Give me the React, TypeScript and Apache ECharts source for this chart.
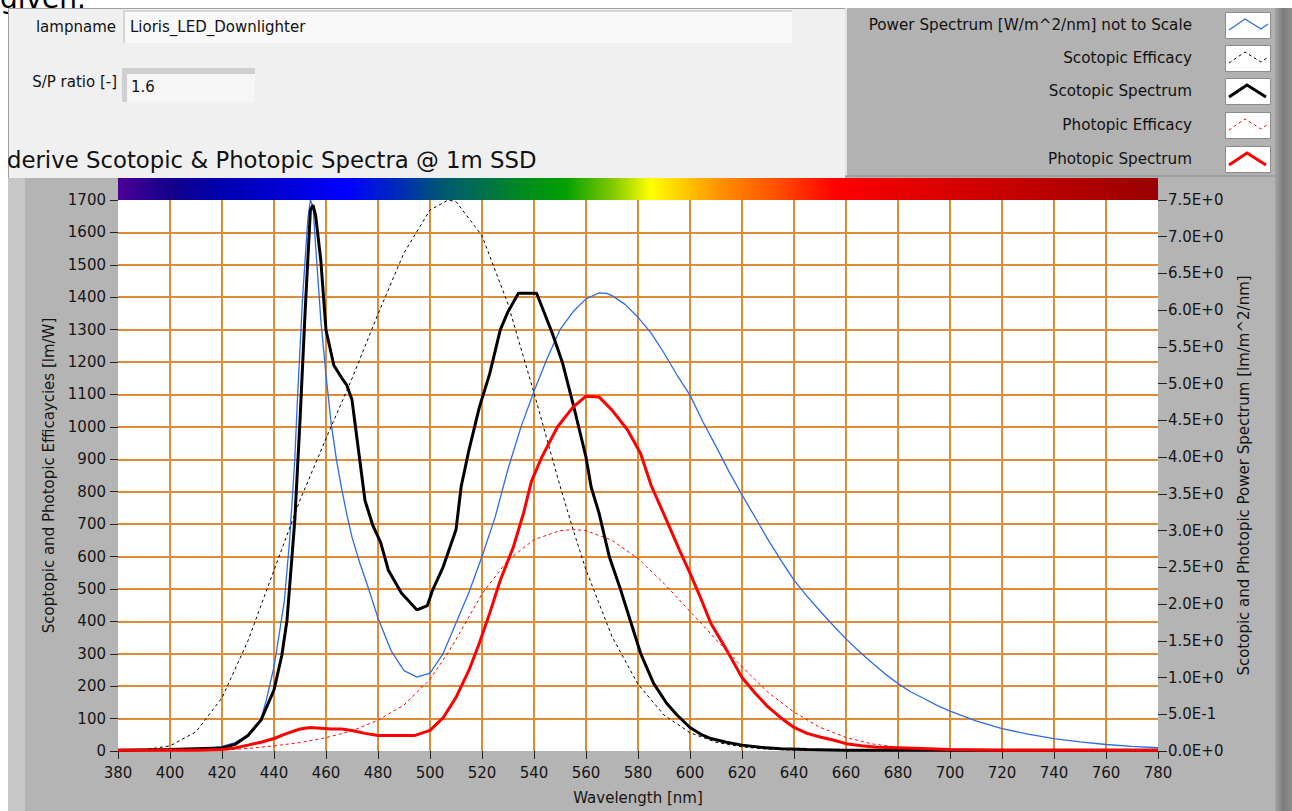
import React, { useEffect, useRef } from "react";
import * as echarts from "echarts";

const FONT = "DejaVu Sans";

const lampName = "Lioris_LED_Downlighter";
const spRatio = "1.6";
const titleText = "derive Scotopic & Photopic Spectra @ 1m SSD";
const xAxisName = "Wavelength [nm]";
const leftAxisName = "Scoptopic and Photopic Efficaycies [lm/W]";
const rightAxisName = "Scotopic and Photopic Power Spectrum [lm/m^2/nm]";

const legendNames = [
  "Power Spectrum [W/m^2/nm] not to Scale",
  "Scotopic Efficacy",
  "Scotopic Spectrum",
  "Photopic Efficacy",
  "Photopic Spectrum",
];
const seriesColors = ["#2f6be8", "#000000", "#000000", "#ff0000", "#ff0000"];
const seriesWidths = [1.3, 1, 3, 1, 3];
const seriesDashed = [false, true, false, true, false];

// Efficacy curves (lm/W), left axis
const efficacyWl = [380, 390, 400, 410, 420, 430, 440, 450, 460, 470, 480, 490, 500, 507, 510, 520, 530, 540, 550, 555, 560, 570, 580, 590, 600, 610, 620, 630, 640, 650, 660, 670, 680, 690, 700, 710, 720, 730, 740, 750, 760, 770, 780];
const scotopicEfficacy = [1.0, 3.8, 15.8, 59.2, 164, 340, 558, 774, 964, 1149, 1348, 1537, 1669, 1700, 1695, 1590, 1379, 1105, 818, 684, 559, 353, 206, 111, 56.4, 27.1, 12.5, 5.7, 2.5, 1.2, 0.5, 0.25, 0.12, 0.06, 0.03, 0.01, 0, 0, 0, 0, 0, 0, 0];
const photopicEfficacy = [0.03, 0.08, 0.27, 0.83, 2.7, 7.9, 15.7, 26.0, 41.0, 62.1, 95.0, 142, 221, 304, 344, 485, 589, 652, 680, 683, 680, 650, 594, 517, 431, 344, 260, 181, 120, 73, 41.7, 21.9, 11.6, 5.6, 2.8, 1.4, 0.72, 0.36, 0.17, 0.08, 0.04, 0.02, 0.01];

// Power spectrum (not to scale), left axis
const powerWl = [380, 390, 400, 410, 415, 420, 425, 430, 435, 437, 440, 442, 444, 446, 448, 449, 451, 453, 454, 455, 456, 458, 460, 462, 464, 466, 468, 470, 473, 476, 480, 485, 490, 495, 500, 505, 510, 515, 520, 525, 530, 535, 540, 545, 550, 555, 560, 565, 568, 570, 575, 580, 585, 590, 595, 600, 605, 610, 615, 620, 625, 630, 635, 640, 645, 650, 655, 660, 665, 670, 675, 680, 685, 690, 695, 700, 710, 720, 730, 740, 750, 760, 770, 780];
const powerSpectrum = [4, 4, 5, 7, 9, 14, 26, 50, 100, 155, 260, 360, 465, 650, 900, 1083, 1400, 1640, 1700, 1680, 1560, 1330, 1160, 1010, 900, 810, 730, 660, 580, 510, 410, 310, 248, 228, 240, 300, 395, 490, 600, 720, 870, 1000, 1110, 1210, 1300, 1355, 1395, 1413, 1412, 1405, 1378, 1338, 1290, 1228, 1160, 1098, 1015, 940, 862, 790, 722, 652, 588, 527, 478, 432, 388, 346, 308, 272, 238, 208, 182, 162, 141, 123, 93, 69, 52, 38, 28, 20, 14, 10];

// Scotopic spectrum (lm/m^2/nm), right axis
const scotopicWl = [380, 400, 420, 425, 430, 435, 440, 443, 445, 448, 450, 452, 454, 455, 456, 458, 460, 463, 466, 468, 470, 472, 475, 478, 481, 484, 489, 495, 499, 501, 505, 510, 512, 515, 519, 523, 527, 530, 534, 541, 547, 551, 555, 560, 562, 565, 569, 573, 577, 581, 586, 591, 595, 600, 604, 608, 614, 620, 627, 635, 645, 660, 780];
const scotopicSpectrum = [0.01, 0.02, 0.04, 0.09, 0.21, 0.42, 0.83, 1.30, 1.78, 3.14, 4.50, 6.00, 7.36, 7.43, 7.29, 6.68, 5.73, 5.25, 5.08, 4.98, 4.78, 4.23, 3.41, 3.07, 2.84, 2.46, 2.15, 1.92, 1.98, 2.19, 2.50, 3.01, 3.60, 4.10, 4.68, 5.14, 5.73, 5.98, 6.23, 6.23, 5.69, 5.28, 4.73, 4.00, 3.59, 3.24, 2.64, 2.23, 1.78, 1.33, 0.92, 0.65, 0.49, 0.32, 0.23, 0.17, 0.12, 0.08, 0.05, 0.03, 0.02, 0.01, 0.01];

// Photopic spectrum (lm/m^2/nm), right axis
const photopicWl = [380, 410, 420, 425, 430, 435, 440, 445, 450, 454, 458, 462, 466, 470, 475, 480, 487, 494, 500, 505, 510, 515, 519, 523, 527, 532, 536, 539, 543, 549, 555, 560, 565, 570, 576, 581, 585, 591, 596, 600, 604, 608, 614, 620, 625, 630, 635, 640, 645, 650, 655, 660, 666, 672, 683, 700, 720, 780];
const photopicSpectrum = [0.01, 0.01, 0.02, 0.04, 0.08, 0.12, 0.17, 0.24, 0.30, 0.32, 0.31, 0.30, 0.30, 0.28, 0.24, 0.21, 0.21, 0.21, 0.28, 0.45, 0.73, 1.10, 1.47, 1.88, 2.32, 2.77, 3.24, 3.67, 4.00, 4.41, 4.68, 4.83, 4.82, 4.64, 4.37, 4.05, 3.62, 3.14, 2.73, 2.42, 2.09, 1.74, 1.38, 1.00, 0.79, 0.60, 0.45, 0.32, 0.24, 0.19, 0.15, 0.10, 0.07, 0.05, 0.04, 0.02, 0.01, 0.01];

// Spectrum colour bar
const barWl = [380, 400, 420, 440, 468, 490, 505, 520, 535, 552, 570, 585, 600, 612, 633, 656, 690, 730, 780];
const barColors = ["#4b0096", "#14008c", "#0000b0", "#0000d0", "#0000ff", "#0030b0", "#005a70", "#00704c", "#008a20", "#00a000", "#80c800", "#ffff00", "#ffc000", "#ff9000", "#ff5000", "#ff0000", "#e00000", "#c00000", "#990000"];

const X_MIN = 380;
const X_MAX = 780;

const pairs = (xs: number[], ys: number[]) => xs.map((x, i) => [x, ys[i]]);

const rightFmt = (v: number) =>
  v === 0 ? "0.0E+0" : v < 1 ? (v * 10).toFixed(1) + "E-1" : v.toFixed(1) + "E+0";
const plainFmt = (v: number) => String(v);

function buildOption() {
  const G_LEFT = 118;
  const G_RIGHT = 1158;
  const G_TOP = 200;
  const txt = (text: string, x: number, y: number, size: number, align = "left", extra: any = {}) => ({
    type: "text",
    z: 5,
    style: { text, x, y, fontSize: size, fontFamily: FONT, fill: "#111", align, verticalAlign: "middle", ...extra },
  });

  const legendTops = [12, 45, 78, 112, 146];
  const legendGraphics: any[] = [];
  legendNames.forEach((n, i) => {
    const yT = legendTops[i];
    legendGraphics.push(txt(n, 1192, yT + 13, 15.2, "right"));
    legendGraphics.push({
      type: "rect",
      z: 4,
      shape: { x: 1225.5, y: yT + 0.5, width: 45, height: 26 },
      style: { fill: "#ffffff", stroke: "#8c8c8c", lineWidth: 1 },
    });
    const thick = seriesWidths[i] > 2;
    const pts = thick
      ? [[1229, yT + 19], [1247, yT + 7], [1266, yT + 19]]
      : [[1229, yT + 18], [1245, yT + 7], [1261, yT + 17], [1268, yT + 12]];
    legendGraphics.push({
      type: "polyline",
      z: 5,
      shape: { points: pts },
      style: {
        stroke: seriesColors[i],
        lineWidth: seriesWidths[i],
        fill: null,
        lineDash: seriesDashed[i] ? [3, 3] : null,
      },
    });
  });

  const barStops = barWl.map((w, i) => ({ offset: (w - X_MIN) / (X_MAX - X_MIN), color: barColors[i] }));

  const graphic: any[] = [
    { type: "text", z: -20, style: { text: "given.", x: 0, y: 12, fontSize: 28, fontFamily: FONT, fill: "#000", verticalAlign: "bottom" } },
    { type: "rect", z: -10, shape: { x: 8.5, y: 8.5, width: 837, height: 170 }, style: { fill: "#f0f0f0", stroke: "#a0a0a0", lineWidth: 1 } },
    { type: "rect", z: -10, shape: { x: 845, y: 8, width: 440, height: 170 }, style: { fill: "#b2b2b2" } },
    { type: "line", z: -9, shape: { x1: 846, y1: 8, x2: 846, y2: 176 }, style: { stroke: "#e2e2e2", lineWidth: 2 } },
    { type: "line", z: -9, shape: { x1: 845, y1: 176, x2: 1285, y2: 176 }, style: { stroke: "#8a8a8a", lineWidth: 1 } },
    { type: "rect", z: -10, shape: { x: 8, y: 178, width: 1284, height: 633 }, style: { fill: "#b4b4b4" } },
    { type: "rect", z: -9, shape: { x: 8, y: 178, width: 17, height: 633 }, style: { fill: "#c8c8c8" } },
    {
      type: "rect",
      z: -8,
      shape: { x: 1275, y: 8, width: 17, height: 803 },
      style: {
        fill: new echarts.graphic.LinearGradient(0, 0, 1, 0, [
          { offset: 0, color: "#a4a4a4" },
          { offset: 0.5, color: "#7c7c7c" },
          { offset: 1, color: "#8e8e8e" },
        ]),
      },
    },
    // lampname field
    txt("lampname", 116, 27, 15, "right"),
    { type: "rect", z: 3, shape: { x: 123, y: 10, width: 669, height: 33 }, style: { fill: "#d6d6d6" } },
    { type: "rect", z: 3, shape: { x: 125, y: 12, width: 667, height: 31 }, style: { fill: "#f8f8f8" } },
    txt(lampName, 130, 27, 15, "left"),
    // S/P field
    txt("S/P ratio [-]", 117, 82, 15, "right"),
    { type: "rect", z: 3, shape: { x: 122, y: 68, width: 133, height: 34 }, style: { fill: "#cfcfcf" } },
    { type: "rect", z: 3, shape: { x: 127, y: 74, width: 128, height: 28 }, style: { fill: "#f6f6f6" } },
    txt(spRatio, 131, 87, 15, "left"),
    // title
    txt(titleText, 7, 160, 22.8, "left"),
    // colour bar
    {
      type: "rect",
      z: 3,
      shape: { x: G_LEFT, y: 178, width: G_RIGHT - G_LEFT, height: G_TOP - 178 },
      style: { fill: new echarts.graphic.LinearGradient(0, 0, 1, 0, barStops) },
    },
    ...legendGraphics,
  ];

  const labelStyle = { fontSize: 15, color: "#141414", fontFamily: FONT };

  const mk = (i: number, data: number[][], yAxisIndex: number) => ({
    name: legendNames[i],
    type: "line",
    yAxisIndex,
    data,
    symbol: "none",
    showSymbol: false,
    silent: true,
    z: 2 + i,
    lineStyle: {
      color: seriesColors[i],
      width: seriesWidths[i],
      type: seriesDashed[i] ? [3, 3] : "solid",
    },
    itemStyle: { color: seriesColors[i] },
  });

  return {
    animation: false,
    backgroundColor: "#ffffff",
    textStyle: { fontFamily: FONT },
    grid: {
      left: G_LEFT,
      right: 1292 - G_RIGHT,
      top: G_TOP,
      bottom: 60,
      show: true,
      backgroundColor: "#ffffff",
      borderWidth: 0,
    },
    graphic,
    xAxis: {
      type: "value",
      min: X_MIN,
      max: X_MAX,
      interval: 20,
      name: xAxisName,
      nameLocation: "middle",
      nameGap: 39,
      nameTextStyle: { ...labelStyle },
      axisLine: { show: false },
      axisTick: { show: true, length: 8, lineStyle: { color: "#222", width: 1 } },
      axisLabel: { ...labelStyle, margin: 14, formatter: plainFmt, showMinLabel: true, showMaxLabel: true },
      splitLine: { show: true, showMinLine: false, showMaxLine: false, lineStyle: { color: "#e08c36", width: 2 } },
    },
    yAxis: [
      {
        type: "value",
        min: 0,
        max: 1700,
        interval: 100,
        position: "left",
        name: leftAxisName,
        nameLocation: "middle",
        nameGap: 56,
        nameTextStyle: { ...labelStyle },
        axisLine: { show: false },
        axisTick: { show: true, length: 8, lineStyle: { color: "#222", width: 1 } },
        axisLabel: { ...labelStyle, margin: 12, formatter: plainFmt, showMinLabel: true, showMaxLabel: true },
        splitLine: { show: true, showMinLine: false, showMaxLine: false, lineStyle: { color: "#e08c36", width: 2 } },
      },
      {
        type: "value",
        min: 0,
        max: 7.5,
        interval: 0.5,
        position: "right",
        name: rightAxisName,
        nameLocation: "middle",
        nameGap: 78,
        nameTextStyle: { ...labelStyle },
        axisLine: { show: false },
        axisTick: { show: true, length: 9, lineStyle: { color: "#222", width: 1 } },
        axisLabel: { ...labelStyle, margin: 10, formatter: rightFmt, showMinLabel: true, showMaxLabel: true },
        splitLine: { show: false },
      },
    ],
    series: [
      mk(0, pairs(powerWl, powerSpectrum), 0),
      mk(1, pairs(efficacyWl, scotopicEfficacy), 0),
      mk(2, pairs(scotopicWl, scotopicSpectrum), 1),
      mk(3, pairs(efficacyWl, photopicEfficacy), 0),
      mk(4, pairs(photopicWl, photopicSpectrum), 1),
    ],
  };
}

export default function App() {
  const ref = useRef<HTMLDivElement>(null);
  useEffect(() => {
    if (!ref.current) return;
    const chart = echarts.init(ref.current, null, { renderer: "svg" });
    chart.setOption(buildOption() as any);
    return () => chart.dispose();
  }, []);
  return <div ref={ref} style={{ position: "absolute", left: 0, top: 0, width: 1292, height: 811 }} />;
}
